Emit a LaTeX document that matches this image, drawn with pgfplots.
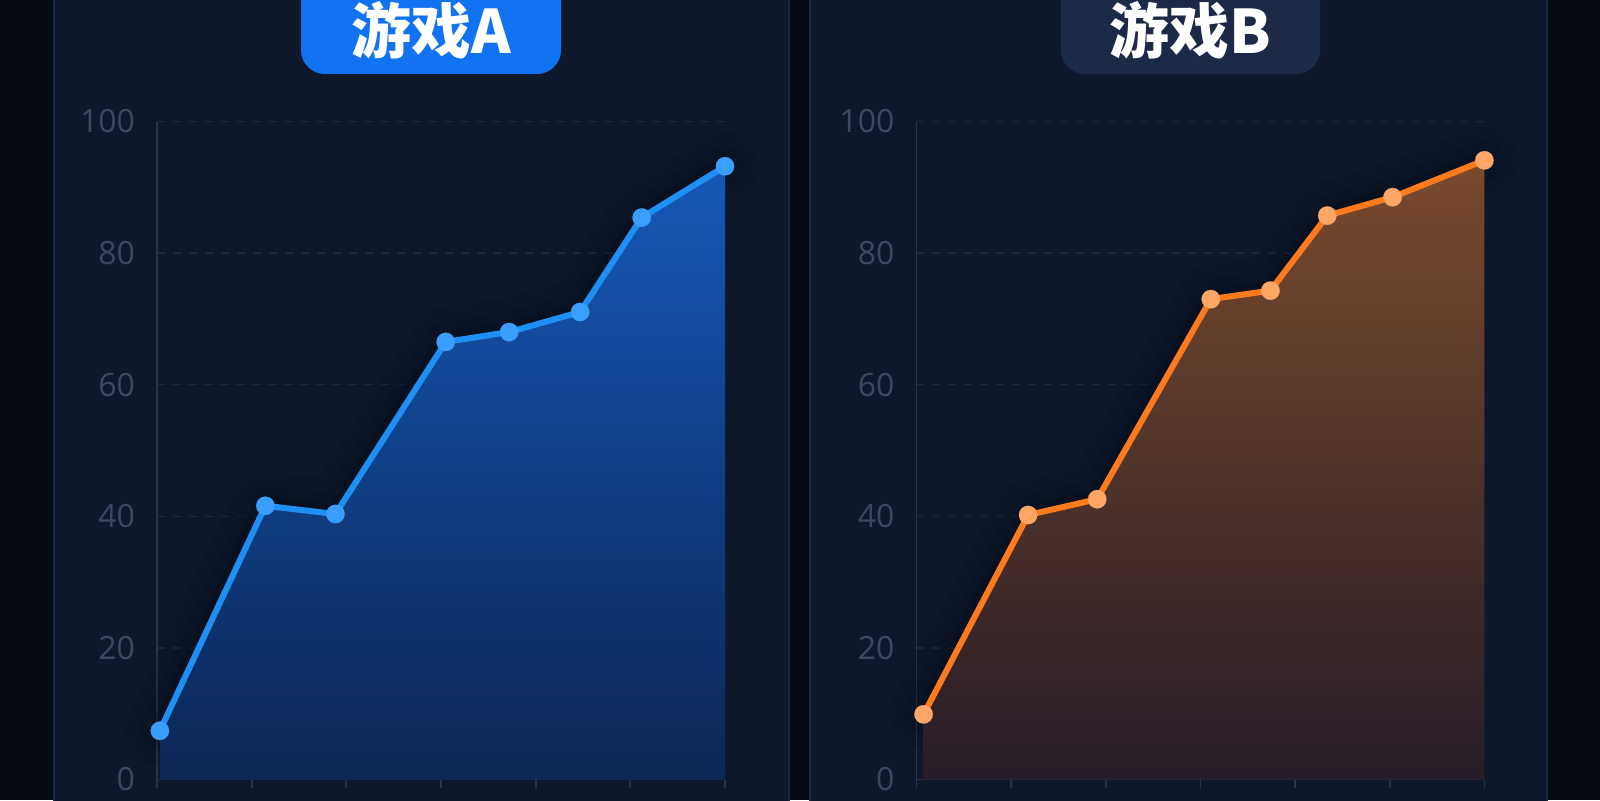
\documentclass[border=0pt]{standalone}
\usepackage{fontspec}
\usepackage{pgfplots}
\pgfplotsset{compat=1.18}
\setmainfont{Open Sans}
\newfontfamily\cjk{Noto Sans CJK SC}
\definecolor{bgc}{HTML}{060A12}
\definecolor{panelc}{HTML}{0F182A}
\definecolor{panelb}{HTML}{1A2740}
\definecolor{axisc}{HTML}{27334B}
\definecolor{gridc}{HTML}{1E293C}
\definecolor{labc}{HTML}{3B4862}
\definecolor{shadc}{HTML}{030813}
\definecolor{lineA}{HTML}{1E8FF5}
\definecolor{markA}{HTML}{3A9EFF}
\definecolor{fillAtop}{HTML}{1658B8}
\definecolor{fillAbot}{HTML}{0B2654}
\definecolor{lineB}{HTML}{FF7A1C}
\definecolor{markB}{HTML}{FFA566}
\definecolor{fillBtop}{HTML}{7A4A2D}
\definecolor{fillBbot}{HTML}{261C27}
\definecolor{boxA}{HTML}{1172F2}
\definecolor{boxB}{HTML}{1C2A48}

\pgfplotstableread{
x y
0.03 7.4
1.145 41.6
1.885 40.35
3.05 66.5
3.72 68.0
4.47 71.05
5.12 85.4
6.0 93.2
}\dataA
\pgfplotstableread{
x y
0.076 9.9
1.18 40.2
1.91 42.6
3.11 73.0
3.74 74.3
4.34 85.7
5.03 88.5
6.0 94.1
}\dataB

\pgfplotsset{panel/.style={
  scale only axis, width=284pt, height=329pt,
  xmin=0, xmax=6, ymin=0, ymax=100,
  axis x line*=bottom, axis y line*=left,
  axis line style={color=axisc, line width=0.9pt},
  xtick={0,1,...,6}, xticklabels={},
  ytick={0,20,...,100},
  ymajorgrids,
  major grid style={color=gridc, line width=0.7pt, dash pattern=on 4pt off 4pt},
  tick align=outside, major tick length=4pt,
  xtick style={draw=axisc, line width=0.9pt},
  ytick style={draw=none},
  yticklabel style={font=\fontsize{16}{16}\selectfont, text=labc, xshift=-3.5pt},
  /pgf/number format/assume math mode=true,
  clip=false,
},
shadow/.style={draw=shadc, line join=round, line cap=round, forget plot}}

\begin{document}
\begin{tikzpicture}
\path[use as bounding box] (0,0) rectangle (800pt,400pt);
\begin{scope}[x=0.5pt,y=0.5pt]
\clip (0,0) rectangle (1600,800);
\fill[bgc] (0,0) rectangle (1600,800);
\fill[panelc, draw=panelb, line width=0.8pt] (54,-10) rectangle (789,810);
\fill[panelc, draw=panelb, line width=0.8pt] (810,-10) rectangle (1547,810);
\fill[boxA, rounded corners=12] (301,726) rectangle (561,840);
\fill[boxB, rounded corners=12] (1061,726) rectangle (1320,840);
\node[anchor=base, text=white, font=\cjk\bfseries\fontsize{30}{30}\selectfont, inner sep=0] at (431,747) {游戏A};
\node[anchor=base, text=white, font=\cjk\bfseries\fontsize{30}{30}\selectfont, inner sep=0] at (1190,747) {游戏B};
\end{scope}

\begin{axis}[panel, at={(78.5pt,10.25pt)}, anchor=south west]
\addplot[shadow, opacity=0.10, line width=34pt] table[x=x,y=y] {\dataA};
\addplot[shadow, opacity=0.14, line width=20pt] table[x=x,y=y] {\dataA};
\addplot[shadow, opacity=0.18, line width=10pt] table[x=x,y=y] {\dataA};
\addplot[draw=none, top color=fillAtop, bottom color=fillAbot] table[x=x,y=y] {\dataA} \closedcycle;
\addplot[color=lineA, line width=3pt, mark=*, mark size=4.6pt, mark options={color=markA, line width=0.1pt}] table[x=x,y=y] {\dataA};
\end{axis}

\begin{axis}[panel, at={(458.2pt,10.25pt)}, anchor=south west]
\addplot[shadow, opacity=0.10, line width=34pt] table[x=x,y=y] {\dataB};
\addplot[shadow, opacity=0.14, line width=20pt] table[x=x,y=y] {\dataB};
\addplot[shadow, opacity=0.18, line width=10pt] table[x=x,y=y] {\dataB};
\addplot[draw=none, top color=fillBtop, bottom color=fillBbot] table[x=x,y=y] {\dataB} \closedcycle;
\addplot[color=lineB, line width=3pt, mark=*, mark size=4.6pt, mark options={color=markB, line width=0.1pt}] table[x=x,y=y] {\dataB};
\end{axis}
\end{tikzpicture}
\end{document}
